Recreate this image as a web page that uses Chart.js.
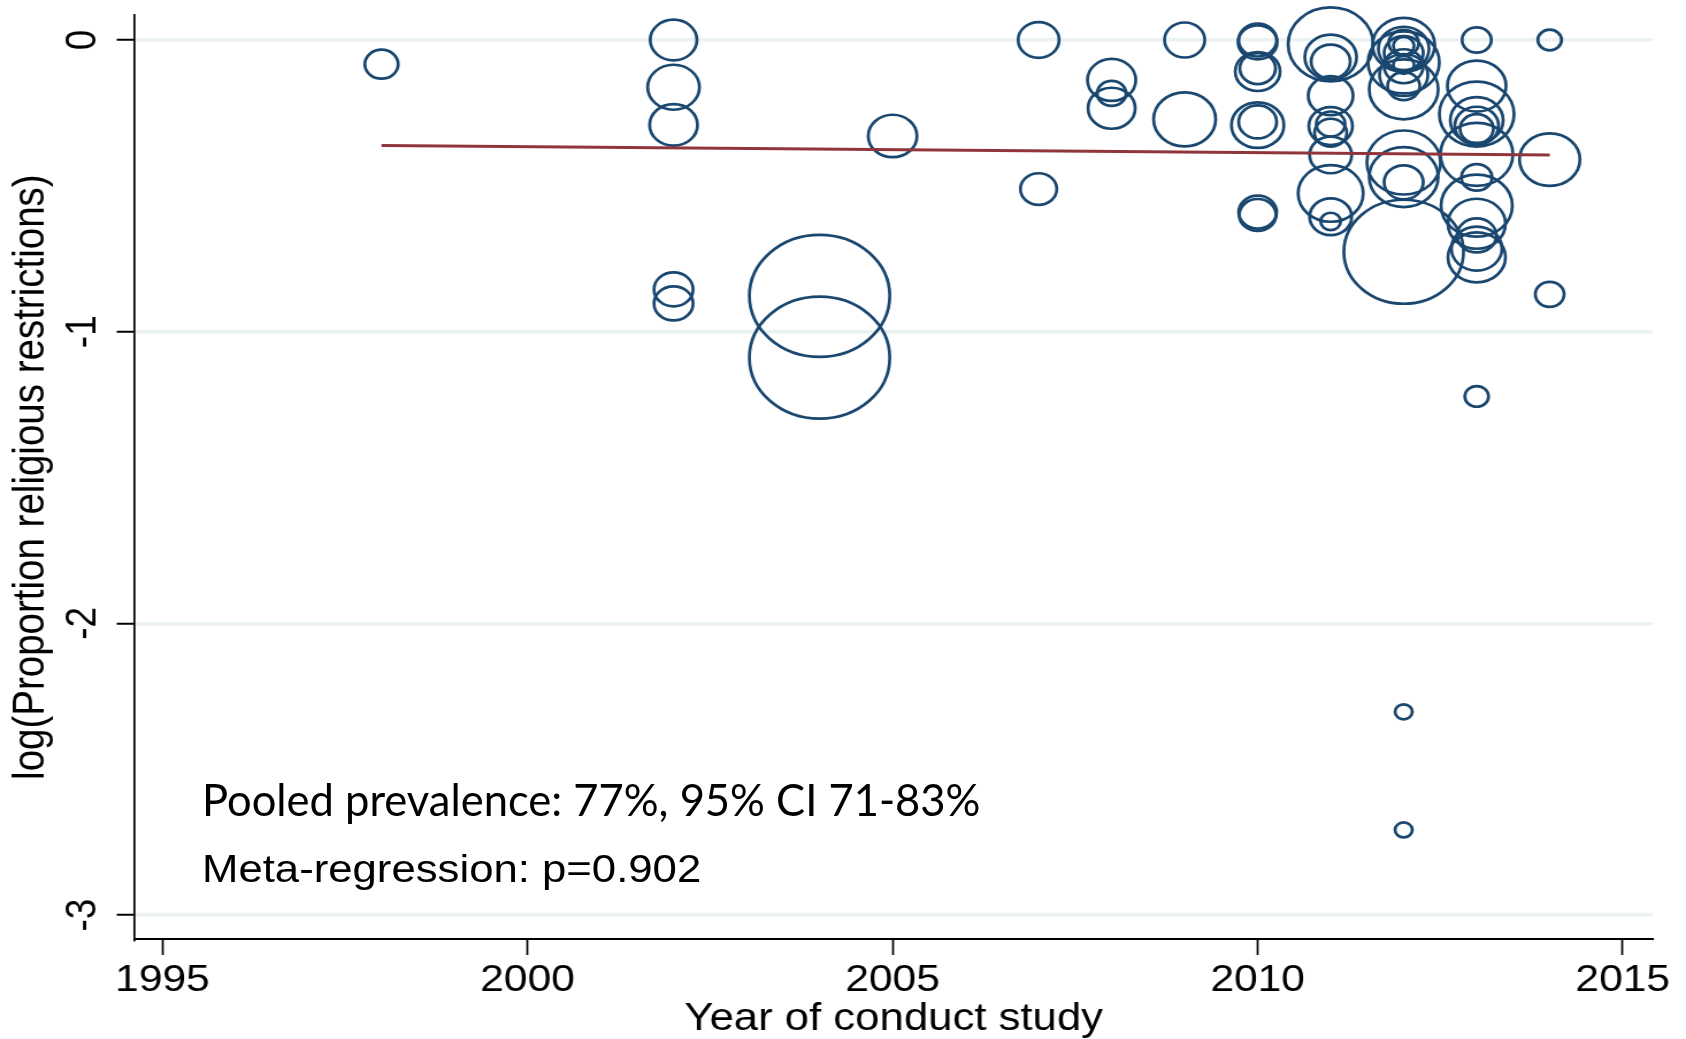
<!DOCTYPE html>
<html>
<head>
<meta charset="utf-8">
<script src="https://cdn.jsdelivr.net/npm/chart.js@4.4.1/dist/chart.umd.min.js"></script>
<style>
  html, body { margin: 0; padding: 0; background: #fff; }
  #frame { position: relative; width: 1686px; height: 1039px; overflow: hidden; background: #fff; }
  /* the graph is drawn narrower and widened, like the exported figure */
  #plot { position: absolute; left: 0; top: 0; width: 1466px; height: 1039px; transform-origin: 0 0; transform: scaleX(1.15007); }
  .note { position: absolute; left: 202px; white-space: nowrap; color: #000; line-height: 1; }
  #pooled { font-family: Lato, "Open Sans", sans-serif; font-size: 43.5px; top: 778px; }
  #metareg { font-family: "Liberation Sans", Arial, sans-serif; font-size: 38px; top: 850px; transform-origin: 0 0; transform: scaleX(1.15); }
</style>
</head>
<body>
<div id="frame">
  <div id="plot"><canvas id="chart" width="1466" height="1039" style="width:1466px;height:1039px"></canvas></div>
  <div class="note" id="pooled">Pooled prevalence: 77%, 95% CI 71-83%</div>
  <div class="note" id="metareg">Meta-regression: p=0.902</div>
</div>
<script>
const STRETCH = 1686 / 1466;

// one entry per study: year of conduct, log proportion, marker radius (study weight)
const studyYear = [
  1998,
  2002, 2002, 2002, 2002, 2002,
  2004, 2004,
  2005,
  2007, 2007,
  2008, 2008, 2008,
  2009, 2009,
  2010, 2010, 2010, 2010, 2010, 2010, 2010, 2010,
  2011, 2011, 2011, 2011, 2011, 2011, 2011, 2011, 2011, 2011, 2011,
  2012, 2012, 2012, 2012, 2012, 2012, 2012, 2012, 2012, 2012, 2012, 2012, 2012, 2012, 2012, 2012, 2012,
  2013, 2013, 2013, 2013, 2013, 2013, 2013, 2013, 2013, 2013, 2013, 2013, 2013, 2013,
  2014, 2014, 2014
];
const logProportion = [
  -0.083,
  0, -0.162, -0.291, -0.855, -0.903,
  -0.877, -1.089,
  -0.329,
  0, -0.511,
  -0.137, -0.183, -0.234,
  0, -0.272,
  0, -0.008, -0.098, -0.108, -0.281, -0.292, -0.59, -0.6,
  -0.015, -0.059, -0.074, -0.191, -0.288, -0.295, -0.318, -0.394, -0.526, -0.606, -0.622,
  -0.017, -0.03, -0.01, -0.02, -0.045, -0.077, -0.09, -0.085, -0.12, -0.158, -0.169, -0.42, -0.47, -0.488, -0.726, -2.303, -2.708,
  0, -0.158, -0.254, -0.275, -0.294, -0.304, -0.392, -0.471, -0.568, -0.63, -0.67, -0.715, -0.745, -1.222,
  0, -0.41, -0.872
];
const markerRadius = [
  14.5,
  20.3, 22.5, 20.8, 17, 17,
  61, 61,
  21.2,
  17.8, 15.8,
  21, 12.5, 20.5,
  17.5, 27,
  16.5, 17, 15.5, 19.5, 16.5, 22.8, 16.5, 16,
  37, 22.5, 17, 19.5, 12.5, 19, 14, 18.3, 28.3, 18.3, 8.7,
  27, 22, 13, 9, 17, 31, 17, 9, 21, 14, 30, 32, 30, 17, 52, 7.5, 7.5,
  12.7, 25.5, 32.5, 23, 19, 14.5, 31.5, 13.3, 31, 25, 17, 22, 25, 10.3,
  10.3, 26.3, 12.5
];

// meta-regression fit over the observed years
const fitYears = [1998, 2014];
const fitValues = [-0.362, -0.394];

const xTickValues = [1995, 2000, 2005, 2010, 2015];
const yTickValues = [0, -1, -2, -3];

const bubbles = studyYear.map((x, i) => ({ x: x, y: logProportion[i], r: markerRadius[i] }));
const fitLine = fitYears.map((x, i) => ({ x: x, y: fitValues[i] }));

const axisFont = { family: '"Liberation Sans", Arial, sans-serif' };

new Chart(document.getElementById('chart'), {
  type: 'bubble',
  data: {
    datasets: [
      {
        type: 'line',
        data: fitLine,
        borderColor: '#90353b',
        borderWidth: 3,
        pointRadius: 0,
        fill: false,
        tension: 0,
        order: 0,
        clip: false
      },
      {
        type: 'bubble',
        data: bubbles,
        backgroundColor: 'rgba(0,0,0,0)',
        borderColor: '#1a476f',
        borderWidth: 2.7,
        hoverRadius: 0,
        order: 1,
        clip: false
      }
    ]
  },
  options: {
    responsive: false,
    animation: false,
    events: [],
    devicePixelRatio: 1,
    layout: { autoPadding: false, padding: { top: 15, right: 29, bottom: 0, left: 0 } },
    plugins: { legend: { display: false }, tooltip: { enabled: false } },
    scales: {
      x: {
        type: 'linear',
        min: 1994.62,
        max: 2015.41,
        afterFit: s => { s.height = 99.7; s.paddingLeft = 0; s.paddingRight = 0; },
        afterBuildTicks: s => { s.ticks = xTickValues.map(v => ({ value: v })); },
        grid: { drawOnChartArea: false, drawTicks: true, tickLength: 15.7, tickColor: '#000', tickWidth: 2 / STRETCH },
        border: { display: true, color: '#000', width: 2 },
        ticks: {
          autoSkip: false, minRotation: 0, maxRotation: 0, padding: 4, color: '#000',
          font: Object.assign({ size: 37 }, axisFont),
          callback: v => String(v)
        },
        title: {
          display: true, text: 'Year of conduct study', color: '#000',
          font: Object.assign({ size: 38, lineHeight: 1.0 }, axisFont),
          padding: { top: 0, bottom: 0 }
        }
      },
      y: {
        type: 'linear',
        min: -3.083,
        max: 0.0857,
        afterFit: s => { s.width = 134.7 / STRETCH; s.paddingTop = 0; s.paddingBottom = 0; },
        afterBuildTicks: s => { s.ticks = yTickValues.map(v => ({ value: v })); },
        grid: { color: '#eaf2f3', lineWidth: 3.5, drawTicks: true, tickLength: 18 / STRETCH, tickColor: '#000', tickWidth: 2 },
        border: { display: true, color: '#000', width: 2 / STRETCH },
        ticks: {
          autoSkip: false, minRotation: 90, maxRotation: 90, crossAlign: 'center', padding: 12, color: '#000',
          font: Object.assign({ size: 37 }, axisFont),
          callback: v => String(v)
        },
        title: {
          display: true, text: 'log(Proportion religious restrictions)', color: '#000',
          font: Object.assign({ size: 38.5 }, axisFont),
          padding: { top: 4.5, bottom: 0 }
        }
      }
    }
  }
});
</script>
</body>
</html>
